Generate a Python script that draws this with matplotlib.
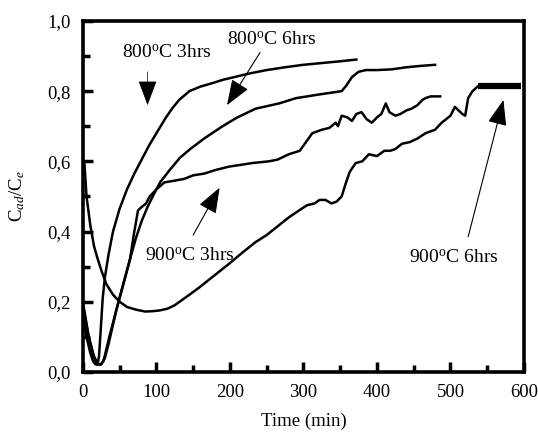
import matplotlib
matplotlib.use("Agg")
import matplotlib.pyplot as plt
from matplotlib.ticker import MultipleLocator, FuncFormatter

plt.rcParams['font.family'] = ['Liberation Serif', 'DejaVu Serif']
plt.rcParams['mathtext.fontset'] = 'custom'
plt.rcParams['mathtext.rm'] = 'Liberation Serif'
plt.rcParams['mathtext.it'] = 'Liberation Serif:italic'

# 800 C, 3 hrs
t_800_3 = [0, 5, 10, 14, 17, 20, 22, 24, 27, 30, 35, 41, 50, 60, 70, 80, 90, 100, 113,
           122, 131, 145, 160, 175, 190, 210, 226, 250, 275, 300, 325, 350, 372]
c_800_3 = [0.16, 0.10, 0.055, 0.03, 0.022, 0.02, 0.045, 0.11, 0.21, 0.27, 0.335, 0.40,
           0.465, 0.52, 0.565, 0.605, 0.645, 0.68, 0.725, 0.752, 0.775, 0.80, 0.813,
           0.822, 0.832, 0.842, 0.85, 0.86, 0.868, 0.875, 0.88, 0.885, 0.89]

# 800 C, 6 hrs
t_800_6 = [0, 8, 15, 20, 25, 30, 35, 46, 55, 64, 72, 80, 88, 95, 105, 118, 132, 146, 165,
           190, 210, 235, 267, 290, 320, 352, 358, 366, 375, 385, 400, 420, 440, 460, 479]
c_800_6 = [0.20, 0.10, 0.04, 0.022, 0.022, 0.04, 0.08, 0.18, 0.25, 0.32, 0.38, 0.43,
           0.47, 0.50, 0.54, 0.575, 0.61, 0.635, 0.665, 0.70, 0.725, 0.75, 0.765, 0.78,
           0.79, 0.80, 0.815, 0.84, 0.855, 0.86, 0.86, 0.862, 0.868, 0.872, 0.875]

# 900 C, 3 hrs
t_900_3 = [0, 8, 15, 20, 24, 28, 36, 46, 55, 64, 70, 75, 80, 86, 91, 100, 111, 125, 138,
           150, 165, 180, 199, 215, 230, 253, 265, 280, 295, 312, 325, 335, 344, 347, 352,
           360, 366, 372, 379, 386, 393, 400, 406, 412, 417, 425, 432, 440, 447, 455, 462,
           466, 473, 486]
c_900_3 = [0.19, 0.10, 0.045, 0.025, 0.02, 0.03, 0.10, 0.18, 0.25, 0.32, 0.40, 0.46,
           0.47, 0.48, 0.50, 0.52, 0.54, 0.545, 0.55, 0.56, 0.565, 0.575, 0.585, 0.59,
           0.595, 0.60, 0.605, 0.62, 0.63, 0.68, 0.69, 0.695, 0.71, 0.70, 0.73, 0.725,
           0.715, 0.735, 0.74, 0.72, 0.71, 0.725, 0.735, 0.765, 0.74, 0.73, 0.735, 0.745,
           0.75, 0.76, 0.775, 0.78, 0.785, 0.785]

# 900 C, 6 hrs
t_900_6 = [2, 5, 10, 15, 19, 25, 32, 41, 50, 60, 73, 85, 95, 104, 115, 125, 135, 145, 158,
           170, 185, 200, 217, 235, 250, 265, 280, 294, 305, 315, 322, 330, 338, 345, 352,
           358, 363, 371, 380, 389, 400, 410, 418, 425, 434, 445, 455, 466, 479, 488, 500,
           506, 511, 516, 520, 524, 530, 538]
c_900_6 = [0.60, 0.50, 0.42, 0.36, 0.33, 0.29, 0.25, 0.22, 0.20, 0.185, 0.177, 0.172,
           0.173, 0.175, 0.18, 0.19, 0.205, 0.22, 0.24, 0.26, 0.285, 0.31, 0.34, 0.37,
           0.39, 0.415, 0.44, 0.46, 0.475, 0.48, 0.49, 0.49, 0.48, 0.485, 0.50, 0.54,
           0.57, 0.595, 0.60, 0.62, 0.615, 0.63, 0.63, 0.635, 0.65, 0.655, 0.665, 0.68,
           0.69, 0.71, 0.73, 0.755, 0.745, 0.735, 0.73, 0.78, 0.80, 0.815]
# flat plateau at the end
t_plateau = [538, 596]
c_plateau = [0.815, 0.815]

fig = plt.figure(figsize=(5.38, 4.36), dpi=100)
ax = fig.add_axes([0.154, 0.147, 0.820, 0.805])

lw = 1.8
ax.plot(t_800_3, c_800_3, color='black', lw=lw)
ax.plot(t_800_6, c_800_6, color='black', lw=lw)
ax.plot(t_900_3, c_900_3, color='black', lw=lw)
ax.plot(t_900_6, c_900_6, color='black', lw=lw)
ax.plot(t_plateau, c_plateau, color='black', lw=4.5, solid_capstyle='butt')

ax.set_xlim(0, 600)
ax.set_ylim(0, 1.0)
ax.xaxis.set_major_locator(MultipleLocator(100))
ax.xaxis.set_minor_locator(MultipleLocator(50))
ax.yaxis.set_major_locator(MultipleLocator(0.2))
ax.yaxis.set_minor_locator(MultipleLocator(0.1))
ax.yaxis.set_major_formatter(FuncFormatter(lambda v, p: f"{v:.1f}".replace('.', ',')))
ax.tick_params(which='both', direction='in', top=False, right=False,
               labelsize=13.5, width=2.5)
ax.tick_params(which='major', length=7)
ax.tick_params(axis='x', which='major', pad=9)
ax.tick_params(axis='y', which='major', pad=9)
ax.tick_params(which='minor', length=5)
for s in ax.spines.values():
    s.set_linewidth(2.6)

ax.set_xlabel('Time (min)', fontsize=13.5, labelpad=8)
ax.set_ylabel('C$_{ad}$/C$_{e}$', fontsize=13.5)
ax.yaxis.set_label_coords(-0.127, 0.5)

arrow = dict(arrowstyle='-|>,head_length=0.8,head_width=0.3', color='black',
             lw=0.8, mutation_scale=20, shrinkA=0, shrinkB=0)
fs = 14
ax.text(114, 0.91, '800$^{\\mathrm{o}}$C 3hrs', fontsize=fs, ha='center', va='center')
ax.annotate('', xy=(88, 0.76), xytext=(88, 0.855),
            arrowprops=dict(arrow, lw=0.5))
ax.text(257, 0.947, '800$^{\\mathrm{o}}$C 6hrs', fontsize=fs, ha='center', va='center')
ax.annotate('', xy=(196, 0.76), xytext=(241, 0.91), arrowprops=arrow)
ax.text(145, 0.33, '900$^{\\mathrm{o}}$C 3hrs', fontsize=fs, ha='center', va='center')
ax.annotate('', xy=(186, 0.525), xytext=(150, 0.39), arrowprops=arrow)
ax.text(504, 0.325, '900$^{\\mathrm{o}}$C 6hrs', fontsize=fs, ha='center', va='center')
ax.annotate('', xy=(572, 0.775), xytext=(524, 0.385), arrowprops=arrow)

fig.savefig('out.png', dpi=100)
